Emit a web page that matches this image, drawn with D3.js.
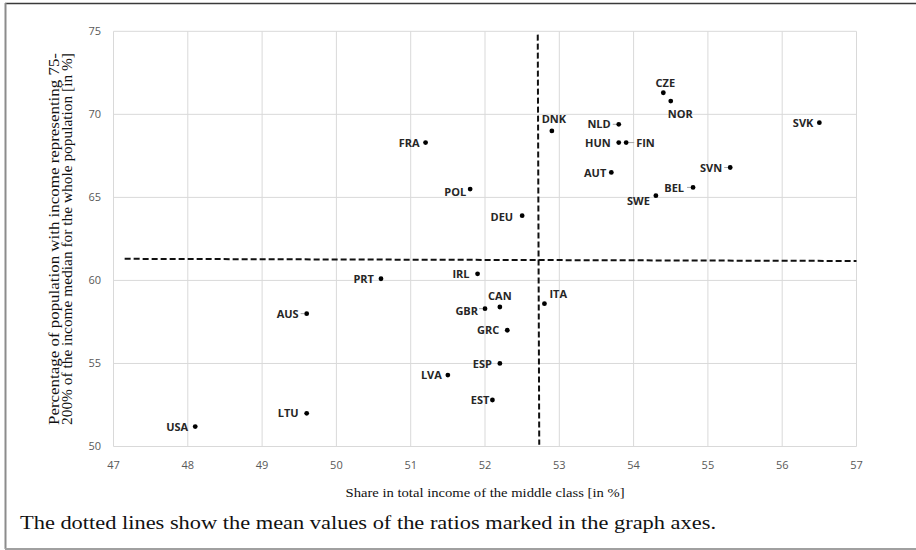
<!DOCTYPE html>
<meta charset="utf-8">
<script src="https://d3js.org/d3.v7.min.js"></script>
<style>
body { margin: 0; background: #fff; }
.tick-label { font-family: "Open Sans", sans-serif; font-size: 11px; fill: #595959; }
.pt-label { font-family: "Open Sans", sans-serif; font-size: 11px; font-weight: 700; fill: #262626; }
.serif { font-family: "Liberation Serif", "Times New Roman", serif; fill: #111; }
</style>
<div id="chart"></div>
<script>
// data
var countries   = ["USA","LTU","AUS","PRT","LVA","EST","ESP","GRC","GBR","CAN","ITA","IRL","DEU","POL","FRA","DNK","NLD","HUN","FIN","AUT","SWE","BEL","SVN","SVK","NOR","CZE"];
var middleShare = [48.1, 49.6, 49.6, 50.6, 51.5, 52.1, 52.2, 52.3, 52.0, 52.2, 52.8, 51.9, 52.5, 51.8, 51.2, 52.9, 53.8, 53.8, 53.9, 53.7, 54.3, 54.8, 55.3, 56.5, 54.5, 54.4];
var popShare    = [51.2, 52.0, 58.0, 60.1, 54.3, 52.8, 55.0, 57.0, 58.3, 58.4, 58.6, 60.4, 63.9, 65.5, 68.3, 69.0, 69.4, 68.3, 68.3, 66.5, 65.1, 65.6, 66.8, 69.5, 70.8, 71.3];
var xTicks = [47, 48, 49, 50, 51, 52, 53, 54, 55, 56, 57];
var yTicks = [50, 55, 60, 65, 70, 75];
// mean lines (as drawn in the original)
var meanVx = [52.71, 52.73], meanVy = [74.8, 50.1];
var meanHx = [47.15, 57.0],  meanHy = [61.30, 61.17];

// label placement: [anchor, dx, dy, leader line]
var labelPos = {
  USA: ["end", -7, 0], LTU: ["end", -8, 0], AUS: ["end", -8, 0, true], PRT: ["end", -7, 0],
  LVA: ["end", -6, 0], EST: ["end", -3, 0], ESP: ["end", -8, 1], GRC: ["end", -8, 0],
  GBR: ["end", -7, 2, true], CAN: ["middle", 0, -11], ITA: ["start", 5, -10], IRL: ["end", -8, 0],
  DEU: ["end", -9, 1], POL: ["end", -4, 3], FRA: ["end", -6, 0], DNK: ["middle", 2, -12],
  NLD: ["end", -8, 0, true], HUN: ["end", -8, 0], FIN: ["start", 10, 0, true], AUT: ["end", -5, 1],
  SWE: ["end", -6, 5], BEL: ["end", -9, 1, true], SVN: ["end", -8, 1, true], SVK: ["end", -6, 0],
  NOR: ["start", -3, 13], CZE: ["middle", 2, -10]
};

var W = 916, H = 550;
var svg = d3.select("#chart").append("svg")
  .attr("width", W)
  .attr("height", H);

var x = d3.scaleLinear().domain([47, 57]).range([113.5, 856.5]);
var y = d3.scaleLinear().domain([50, 75]).range([446.5, 31.3]);

// outer frame
svg.append("line").attr("x1", 5).attr("x2", W).attr("y1", 3.5).attr("y2", 3.5)
  .attr("stroke", "#3a3a3a").attr("stroke-width", 1.5);
svg.append("line").attr("x1", 5.5).attr("x2", 5.5).attr("y1", 3).attr("y2", 549)
  .attr("stroke", "#8c8c8c").attr("stroke-width", 2);
svg.append("line").attr("x1", 5).attr("x2", W).attr("y1", 549).attr("y2", 549)
  .attr("stroke", "#a0a0a0").attr("stroke-width", 2);

// grid
svg.append("g").selectAll("line").data(xTicks).join("line")
  .attr("x1", d => x(d)).attr("x2", d => x(d))
  .attr("y1", y(75)).attr("y2", y(50))
  .attr("stroke", "#d9d9d9").attr("stroke-width", 1);
svg.append("g").selectAll("line").data(yTicks).join("line")
  .attr("x1", x(47)).attr("x2", x(57))
  .attr("y1", d => y(d)).attr("y2", d => y(d))
  .attr("stroke", "#d9d9d9").attr("stroke-width", 1);

// tick labels
svg.append("g").selectAll("text").data(xTicks).join("text")
  .attr("class", "tick-label")
  .attr("x", d => x(d)).attr("y", 469)
  .attr("text-anchor", "middle")
  .text(d => d);
svg.append("g").selectAll("text").data(yTicks).join("text")
  .attr("class", "tick-label")
  .attr("x", 101).attr("y", d => y(d)).attr("dy", "0.35em")
  .attr("text-anchor", "end")
  .text(d => d);

// mean lines
var line = d3.line().x(d => x(d[0])).y(d => y(d[1]));
svg.append("path")
  .attr("d", line(d3.zip(meanVx, meanVy)))
  .attr("fill", "none").attr("stroke", "#111").attr("stroke-width", 2)
  .attr("stroke-dasharray", "6,3");
svg.append("path")
  .attr("d", line(d3.zip(meanHx, meanHy)))
  .attr("fill", "none").attr("stroke", "#111").attr("stroke-width", 2)
  .attr("stroke-dasharray", "6,3");

// points + labels
var pts = countries.map((c, i) => ({ c: c, x: middleShare[i], y: popShare[i] }));

var g = svg.append("g");
pts.forEach(function(p) {
  var lp = labelPos[p.c];
  var px = x(p.x), py = y(p.y);
  if (lp[3]) {
    var lx = lp[1] < 0 ? px - 2.5 : px + 2.5;
    var ex = lp[1] < 0 ? px - 6 : px + 8;
    g.append("line").attr("x1", lx).attr("x2", ex).attr("y1", py).attr("y2", py)
      .attr("stroke", "#a6a6a6").attr("stroke-width", 1);
  }
  g.append("circle").attr("cx", px).attr("cy", py).attr("r", 2.4).attr("fill", "#000");
  g.append("text").attr("class", "pt-label")
    .attr("x", px + lp[1]).attr("y", py + lp[2]).attr("dy", "0.36em")
    .attr("text-anchor", lp[0])
    .text(p.c);
});

// axis titles
svg.append("text").attr("class", "serif")
  .attr("x", x(52)).attr("y", 497)
  .attr("text-anchor", "middle")
  .attr("font-size", 13)
  .attr("textLength", 279).attr("lengthAdjust", "spacingAndGlyphs")
  .text("Share in total income of the middle class [in %]");

var yt = svg.append("text").attr("class", "serif")
  .attr("transform", "translate(0," + 239 + ") rotate(-90)")
  .attr("text-anchor", "middle")
  .attr("font-size", 14);
yt.append("tspan").attr("x", 0).attr("y", 59)
  .attr("textLength", 372).attr("lengthAdjust", "spacingAndGlyphs")
  .text("Percentage of population with income representing 75-");
yt.append("tspan").attr("x", 0).attr("y", 72)
  .attr("textLength", 372).attr("lengthAdjust", "spacingAndGlyphs")
  .text("200% of the income median for the whole population [in %]");

// caption
svg.append("text").attr("class", "serif")
  .attr("x", 20).attr("y", 529)
  .attr("font-size", 18)
  .attr("textLength", 696).attr("lengthAdjust", "spacingAndGlyphs")
  .text("The dotted lines show the mean values of the ratios marked in the graph axes.");
</script>
